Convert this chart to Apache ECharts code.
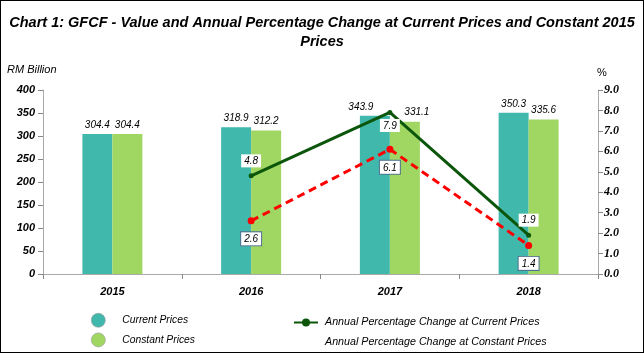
<!DOCTYPE html>
<html><head><meta charset="utf-8">
<script src="https://cdn.jsdelivr.net/npm/echarts@6/dist/echarts.min.js"></script>
<style>html,body{margin:0;padding:0;background:#fff}#c{width:644px;height:353px;box-sizing:border-box;border:1px solid #000}</style>
</head><body><div id="c"></div>
<script>
const categories = ['2015', '2016', '2017', '2018'];
const currentPrices = [304.4, 318.9, 343.9, 350.3];
const constantPrices = [304.4, 312.2, 331.1, 335.6];
const pctCurrent = [null, 4.8, 7.9, 1.9];
const pctConstant = [null, 2.6, 6.1, 1.4];
const leftTicks = {min: 0, max: 400, interval: 50};
const rightTicks = {min: 0, max: 9, interval: 1};

const FONT = '"Liberation Sans", Arial, sans-serif';
const SERIF = '"Liberation Serif", "Times New Roman", serif';
const chart = echarts.init(document.getElementById('c'));
const axisTxt = {color: '#000', fontFamily: FONT, fontStyle: 'italic', fontWeight: 'bold', fontSize: 11};
const barLabel = {show: true, position: 'top', distance: 4, fontFamily: FONT, fontStyle: 'italic', fontSize: 10, color: '#000', formatter: p => p.value.toFixed(1)};
const curBarData = currentPrices.map((v, i) => i === 2 ? {value: v, label: {offset: [-14, 0]}} : v);
const conBarData = constantPrices.map((v, i) => i === 2 ? {value: v, label: {offset: [12, 0]}} : v);
const curLineData = pctCurrent.map((v, i) => i === 2 ? {value: v, label: {position: 'bottom', distance: 4}} : v);
chart.setOption({
  animation: false,
  title: {
    text: 'Chart 1: GFCF - Value and Annual Percentage Change at Current Prices and Constant 2015\nPrices',
    left: 'center', top: 7,
    textStyle: {fontFamily: FONT, fontStyle: 'italic', fontWeight: 'bold', fontSize: 14.5, lineHeight: 19, color: '#000'}
  },
  grid: {left: 42, right: 45, top: 89, bottom: 78},
  legend: [{
    orient: 'vertical', left: 90, top: 312, itemGap: 5, itemWidth: 14, itemHeight: 14, padding: 0,
    data: [{name: 'Current Prices', icon: 'circle'}, {name: 'Constant Prices', icon: 'circle'}],
    itemStyle: {borderColor: '#999', borderWidth: 0.6},
    textStyle: {fontFamily: FONT, fontStyle: 'italic', fontSize: 10.3, color: '#000', padding: [0, 0, 0, 12]}
  }, {
    orient: 'vertical', left: 292, top: 316, itemGap: 9, itemWidth: 24, itemHeight: 10, padding: 0,
    data: [{name: 'Annual Percentage Change at Current Prices'},
           {name: 'Annual Percentage Change at Constant Prices', itemStyle: {opacity: 0}, lineStyle: {opacity: 0}}],
    textStyle: {fontFamily: FONT, fontStyle: 'italic', fontSize: 10.7, color: '#000', padding: [0, 0, 0, 2]}
  }],
  xAxis: {
    type: 'category', data: categories,
    axisLine: {lineStyle: {color: '#aaa', width: 1}},
    axisTick: {show: true, lineStyle: {color: '#888'}},
    axisLabel: Object.assign({margin: 12}, axisTxt)
  },
  yAxis: [{
    type: 'value', min: leftTicks.min, max: leftTicks.max, interval: leftTicks.interval,
    name: 'RM Billion', nameLocation: 'end', nameGap: 15,
    nameTextStyle: {fontFamily: FONT, fontStyle: 'italic', fontSize: 11, color: '#000', align: 'left', padding: [0, 0, 0, -36]},
    axisLine: {show: true, lineStyle: {color: '#aaa'}},
    axisTick: {show: true, lineStyle: {color: '#888'}},
    splitLine: {show: false},
    axisLabel: Object.assign({margin: 8}, axisTxt)
  }, {
    type: 'value', min: rightTicks.min, max: rightTicks.max, interval: rightTicks.interval,
    name: '%', nameLocation: 'end', nameGap: 12,
    nameTextStyle: {fontFamily: FONT, fontSize: 11, color: '#000', padding: [0, 0, 0, 8]},
    axisLine: {show: true, lineStyle: {color: '#aaa'}},
    axisTick: {show: true, lineStyle: {color: '#888'}},
    splitLine: {show: false},
    axisLabel: {margin: 6, formatter: v => v.toFixed(1), color: '#000', fontFamily: SERIF, fontStyle: 'italic', fontWeight: 'bold', fontSize: 12}
  }],
  series: [{
    name: 'Current Prices', type: 'bar', data: curBarData, barWidth: 30, barGap: '0%',
    itemStyle: {color: '#40B8AC'}, label: barLabel
  }, {
    name: 'Constant Prices', type: 'bar', data: conBarData, barWidth: 30, barGap: '0%',
    itemStyle: {color: '#A0D662'}, label: barLabel
  }, {
    name: 'Annual Percentage Change at Current Prices', type: 'line', yAxisIndex: 1, data: curLineData,
    symbol: 'circle', symbolSize: 5,
    lineStyle: {color: '#0B560B', width: 3}, itemStyle: {color: '#0B560B'},
    label: {show: true, position: 'top', distance: 6, fontFamily: FONT, fontStyle: 'italic', fontSize: 10, color: '#000',
      backgroundColor: '#fff', padding: [2, 3, 1, 3], formatter: p => p.value.toFixed(1)}
  }, {
    name: 'Annual Percentage Change at Constant Prices', type: 'line', yAxisIndex: 1, data: pctConstant,
    symbol: 'circle', symbolSize: 7,
    lineStyle: {color: '#FF0000', width: 3, type: [8, 5]}, itemStyle: {color: '#FF0000'},
    label: {show: true, position: 'bottom', distance: 8, fontFamily: FONT, fontStyle: 'italic', fontSize: 10, color: '#000',
      backgroundColor: '#fff', borderColor: '#4F7190', borderWidth: 1, padding: [2, 3, 1, 3], formatter: p => p.value.toFixed(1)}
  }]
});
</script></body></html>
